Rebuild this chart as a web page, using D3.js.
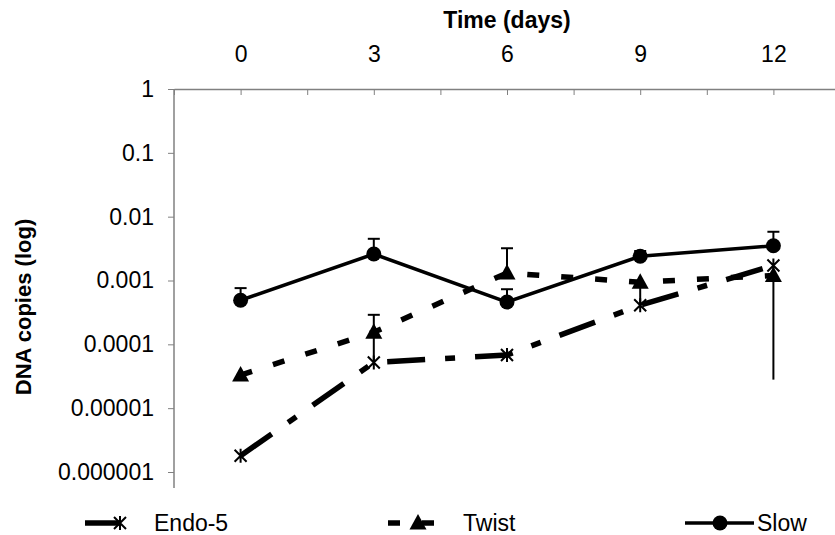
<!DOCTYPE html>
<html>
<head>
<meta charset="utf-8">
<script src="https://cdn.jsdelivr.net/npm/d3@7"></script>
<style>
  body { margin: 0; background: #fff; }
  text { font-family: "Liberation Sans", Arial, sans-serif; fill: #000; }
</style>
</head>
<body>
<svg id="chart" width="835" height="535"></svg>
<script>
// values
const days = [0, 3, 6, 9, 12]
const xTicks = [-1.5, 0, 1.5, 3, 4.5, 6, 7.5, 9, 10.5, 12, 13.5]
const xLabels = [0, 3, 6, 9, 12]
const yTicks = [1, 0.1, 0.01, 0.001, 0.0001, 0.00001, 0.000001]

const endo = [0.0000018, 0.000052, 0.000068, 0.00041, 0.00172]
const twist = [0.000033, 0.000155, 0.00131, 0.00094, 0.0012]
const slow = [0.00049, 0.0026, 0.00046, 0.0024, 0.0035]

// error bar ends (null = none)
const slowHi = [0.00076, 0.0045, 0.00073, 0.0029, 0.0058]
const twistHi = [null, 0.00029, 0.0032, null, null]
const twistLo = [null, 0.000053, null, 0.00041, 0.000028]

const svg = d3.select("#chart")

const x = d3.scaleLinear().domain([-1.5, 13.5]).range([174, 840])
const y = d3.scaleLog().domain([1, 0.000001]).range([89, 472])

// y axis
const yAxis = svg.append("g")
	.attr("transform", "translate(174,0)")
	.call(d3.axisLeft(y).tickValues(yTicks).tickFormat(d => String(d)).tickSize(6).tickPadding(14))
yAxis.select(".domain").remove()
yAxis.selectAll("line").attr("stroke", "#808080")
yAxis.selectAll("text").style("font-size", "23px").style("font-family", "Liberation Sans, Arial")

svg.append("line")
	.attr("x1", 174).attr("x2", 174)
	.attr("y1", y(1)).attr("y2", y(0.000001) + 16)
	.attr("stroke", "#808080").attr("stroke-width", 1.5)

// x axis on top
const xAxis = svg.append("g")
	.attr("transform", "translate(0," + y(1) + ")")
	.call(d3.axisTop(x).tickValues(xTicks)
		.tickFormat(d => xLabels.includes(d) ? d : "")
		.tickSizeInner(-6).tickSizeOuter(0).tickPadding(27))
xAxis.select(".domain").attr("stroke", "#808080").attr("stroke-width", 1.5)
xAxis.selectAll("line").attr("stroke", "#808080")
xAxis.selectAll("text").style("font-size", "23px").style("font-family", "Liberation Sans, Arial")

svg.append("text")
	.attr("x", x(6)).attr("y", 28)
	.attr("text-anchor", "middle")
	.style("font-size", "23px").style("font-weight", "bold")
	.text("Time (days)")

svg.append("text")
	.attr("transform", "translate(31,307) rotate(-90)")
	.attr("text-anchor", "middle")
	.style("font-size", "22px").style("font-weight", "bold")
	.text("DNA copies (log)")

const line = d3.line().x((d, i) => x(days[i])).y(d => y(d))

const styles = {
	endo: { dash: "38,20,10,20", width: 5.5 },
	twist: { dash: "12,22", width: 5.5 },
	slow: { dash: null, width: 3.5 }
}

const series = [
	{ key: "endo", values: endo },
	{ key: "twist", values: twist },
	{ key: "slow", values: slow }
]

series.forEach(s => {
	svg.append("path")
		.datum(s.values)
		.attr("d", line)
		.attr("fill", "none")
		.attr("stroke", "#000")
		.attr("stroke-width", styles[s.key].width)
		.attr("stroke-dasharray", styles[s.key].dash)
})

// error bars
const errs = svg.append("g").attr("stroke", "#000").attr("stroke-width", 2)
const drawErr = (vals, ends, cap) => {
	ends.forEach((e, i) => {
		if (e == null) return
		errs.append("line")
			.attr("x1", x(days[i])).attr("x2", x(days[i]))
			.attr("y1", y(vals[i])).attr("y2", y(e))
		if (cap) {
			errs.append("line")
				.attr("x1", x(days[i]) - 6).attr("x2", x(days[i]) + 6)
				.attr("y1", y(e)).attr("y2", y(e))
		}
	})
}
drawErr(slow, slowHi, true)
drawErr(twist, twistHi, true)
drawErr(twist, twistLo, false)

// markers
const starPath = "M-6,-6L6,6M-6,6L6,-6M0,-7L0,7"
const triPath = "M0,-9L8.5,6.5L-8.5,6.5Z"

svg.append("g").selectAll("path")
	.data(endo)
	.join("path")
	.attr("transform", (d, i) => `translate(${x(days[i])},${y(d)})`)
	.attr("d", starPath)
	.attr("stroke", "#000").attr("stroke-width", 2).attr("fill", "none")

svg.append("g").selectAll("path")
	.data(twist)
	.join("path")
	.attr("transform", (d, i) => `translate(${x(days[i])},${y(d)})`)
	.attr("d", triPath)
	.attr("fill", "#000")

svg.append("g").selectAll("circle")
	.data(slow)
	.join("circle")
	.attr("cx", (d, i) => x(days[i]))
	.attr("cy", d => y(d))
	.attr("r", 7.5)
	.attr("fill", "#000")

// legend
const ly = 523
const legend = svg.append("g")

legend.append("line")
	.attr("x1", 85).attr("x2", 120).attr("y1", ly).attr("y2", ly)
	.attr("stroke", "#000").attr("stroke-width", styles.endo.width)
legend.append("path")
	.attr("transform", `translate(120,${ly})`)
	.attr("d", starPath)
	.attr("stroke", "#000").attr("stroke-width", 2).attr("fill", "none")
legend.append("text").attr("x", 154).attr("y", ly + 8).style("font-size", "23px").text("Endo-5")

legend.append("line")
	.attr("x1", 388).attr("x2", 440).attr("y1", ly).attr("y2", ly)
	.attr("stroke", "#000").attr("stroke-width", styles.twist.width)
	.attr("stroke-dasharray", styles.twist.dash)
legend.append("path")
	.attr("transform", `translate(418,${ly})`)
	.attr("d", triPath)
	.attr("fill", "#000")
legend.append("text").attr("x", 463).attr("y", ly + 8).style("font-size", "23px").text("Twist")

legend.append("line")
	.attr("x1", 685).attr("x2", 754).attr("y1", ly).attr("y2", ly)
	.attr("stroke", "#000").attr("stroke-width", styles.slow.width)
legend.append("circle").attr("cx", 720).attr("cy", ly).attr("r", 7.5).attr("fill", "#000")
legend.append("text").attr("x", 757).attr("y", ly + 8).style("font-size", "23px").text("Slow")
</script>
</body>
</html>
